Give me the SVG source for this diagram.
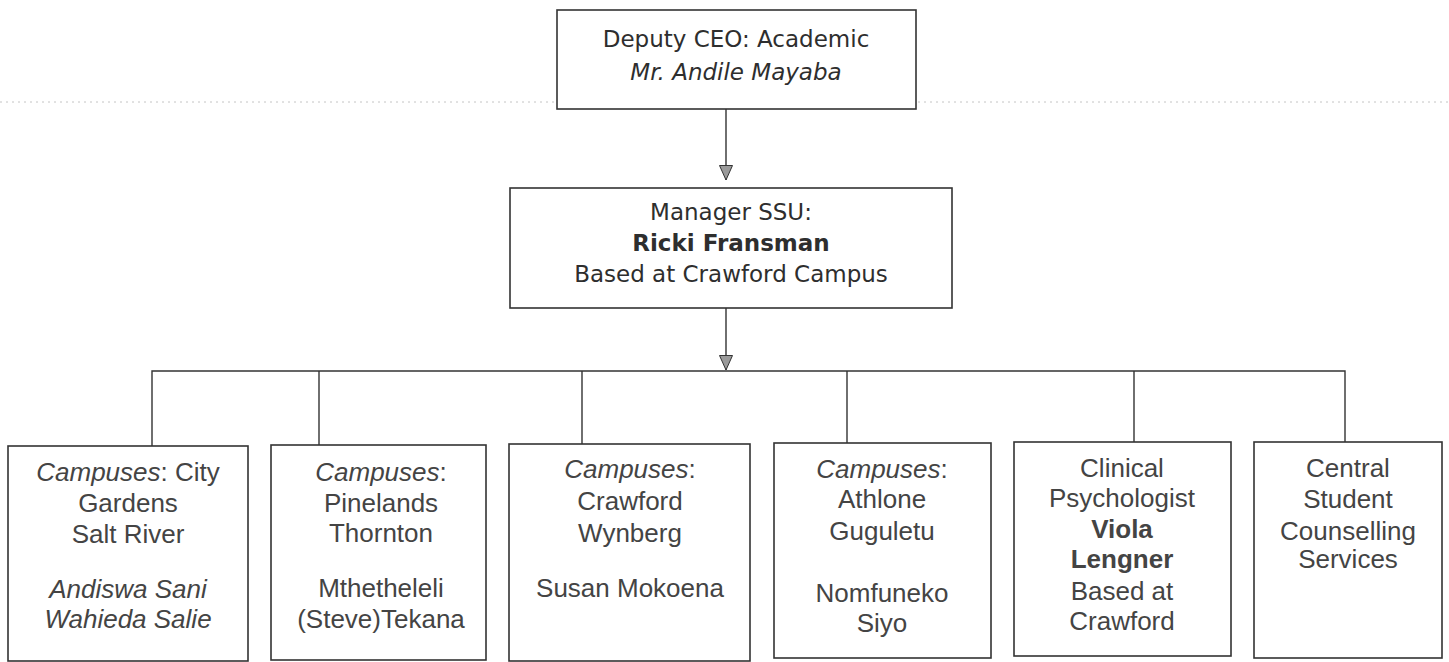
<svg xmlns="http://www.w3.org/2000/svg" width="1449" height="662" viewBox="0 0 1449 662">
<style>
  .box{fill:#fff;stroke:#333;stroke-width:1.6}
  .con{fill:none;stroke:#333;stroke-width:1.4}
  .t{font-family:"DejaVu Sans",Verdana,sans-serif;font-size:23px;fill:#2e2e2e;text-anchor:middle}
  .a{font-family:"Liberation Sans",Arial,sans-serif;font-size:26px;fill:#444;text-anchor:middle}
  .i{font-style:italic}
  .b{font-weight:bold}
  .scan{stroke:#c4c4c4;stroke-width:1;stroke-dasharray:2 4;fill:none}
</style>
<defs>
  <marker id="ah" markerUnits="userSpaceOnUse" markerWidth="16" markerHeight="16" refX="15" refY="7" orient="auto" viewBox="0 0 16 14">
    <path d="M0.5,0.5 L15,7 L0.5,13.5 Z" fill="#9a9a9a" stroke="#333" stroke-width="1"/>
  </marker>
</defs>
<rect width="1449" height="662" fill="#fff"/>
<line class="scan" x1="0" y1="102" x2="1449" y2="102"/>

<g id="connectors">
  <line class="con" x1="726" y1="109" x2="726" y2="180" marker-end="url(#ah)"/>
  <line class="con" x1="726" y1="308" x2="726" y2="370" marker-end="url(#ah)"/>
  <polyline class="con" points="152,446 152,371 1345,371 1345,442"/>
  <line class="con" x1="319" y1="371" x2="319" y2="445"/>
  <line class="con" x1="582" y1="371" x2="582" y2="444"/>
  <line class="con" x1="847" y1="371" x2="847" y2="443"/>
  <line class="con" x1="1134" y1="371" x2="1134" y2="442"/>
</g>

<g id="deputy-ceo">
  <rect class="box" x="557" y="10" width="359" height="99"/>
  <text class="t" x="736" y="47">Deputy CEO: Academic</text>
  <text class="t i" x="736" y="80">Mr. Andile Mayaba</text>
</g>

<g id="manager-ssu">
  <rect class="box" x="510" y="188" width="442" height="120"/>
  <text class="t" x="731" y="220">Manager SSU:</text>
  <text class="t b" x="731" y="251">Ricki Fransman</text>
  <text class="t" x="731" y="282">Based at Crawford Campus</text>
</g>

<g id="campus-city">
  <rect class="box" x="8" y="446" width="240" height="215"/>
  <text class="a" x="128" y="481"><tspan class="i">Campuses</tspan>: City</text>
  <text class="a" x="128" y="512">Gardens</text>
  <text class="a" x="128" y="543">Salt River</text>
  <text class="a i" x="128" y="598">Andiswa Sani</text>
  <text class="a i" x="128" y="628">Wahieda Salie</text>
</g>

<g id="campus-pinelands">
  <rect class="box" x="271" y="445" width="215" height="215"/>
  <text class="a" x="381" y="481"><tspan class="i">Campuses</tspan>:</text>
  <text class="a" x="381" y="512">Pinelands</text>
  <text class="a" x="381" y="542">Thornton</text>
  <text class="a" x="381" y="597">Mthetheleli</text>
  <text class="a" x="381" y="628">(Steve)Tekana</text>
</g>

<g id="campus-crawford">
  <rect class="box" x="509" y="444" width="241" height="217"/>
  <text class="a" x="630" y="478"><tspan class="i">Campuses</tspan>:</text>
  <text class="a" x="630" y="510">Crawford</text>
  <text class="a" x="630" y="542">Wynberg</text>
  <text class="a" x="630" y="597">Susan Mokoena</text>
</g>

<g id="campus-athlone">
  <rect class="box" x="774" y="443" width="217" height="215"/>
  <text class="a" x="882" y="478"><tspan class="i">Campuses</tspan>:</text>
  <text class="a" x="882" y="508">Athlone</text>
  <text class="a" x="882" y="540">Guguletu</text>
  <text class="a" x="882" y="602">Nomfuneko</text>
  <text class="a" x="882" y="632">Siyo</text>
</g>

<g id="clinical-psychologist">
  <rect class="box" x="1014" y="442" width="217" height="214"/>
  <text class="a" x="1122" y="477">Clinical</text>
  <text class="a" x="1122" y="507">Psychologist</text>
  <text class="a b" x="1122" y="538">Viola</text>
  <text class="a b" x="1122" y="568">Lengner</text>
  <text class="a" x="1122" y="600">Based at</text>
  <text class="a" x="1122" y="630">Crawford</text>
</g>

<g id="central-counselling">
  <rect class="box" x="1254" y="442" width="188" height="216"/>
  <text class="a" x="1348" y="477">Central</text>
  <text class="a" x="1348" y="508">Student</text>
  <text class="a" x="1348" y="540">Counselling</text>
  <text class="a" x="1348" y="568">Services</text>
</g>
</svg>
